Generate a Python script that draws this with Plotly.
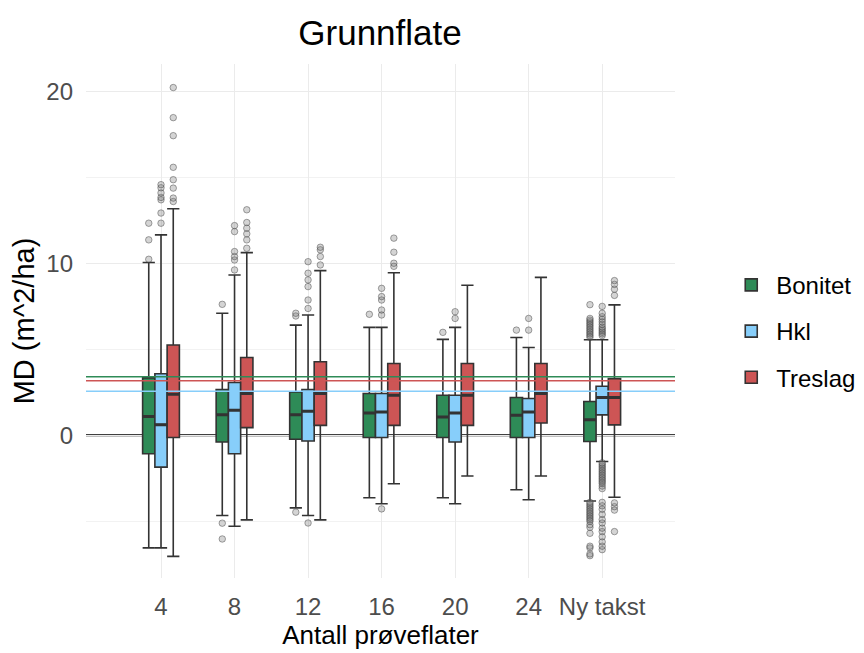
import plotly.graph_objects as go

categories = ["4", "8", "12", "16", "20", "24", "Ny takst"]
groups = ["Bonitet", "Hkl", "Treslag"]
colors = {"Bonitet": "#2E8B57", "Hkl": "#87CEFA", "Treslag": "#CD5555"}

# Bonitet
bon_lf = [-6.55, -4.66, -4.22, -3.63, -3.63, -3.17, -3.82]
bon_q1 = [-1.07, -0.39, -0.23, -0.13, -0.13, -0.13, -0.36]
bon_med = [1.10, 1.20, 1.20, 1.30, 1.07, 1.17, 0.90]
bon_q3 = [3.34, 2.66, 2.53, 2.43, 2.33, 2.20, 1.97]
bon_uf = [10.05, 7.10, 6.41, 6.28, 5.58, 5.69, 5.56]
bon_out = [
    [10.24, 11.37, 12.34],
    [7.62, -5.11, -6.03],
    [6.94, 7.10, -4.47],
    [7.04],
    [5.99],
    [6.12],
    [5.7, 5.8, 5.9, 6.0, 6.1, 6.2, 6.3, 6.4, 6.5, 6.6, 6.7, 6.8, 7.6,
     -3.9, -4.0, -4.1, -4.2, -4.3, -4.4, -4.5, -4.6, -4.7, -4.8, -4.9, -5.0,
     -5.2, -5.35, -5.7, -6.45, -6.55, -6.9, -7.0],
]

# Hkl
hkl_lf = [-6.55, -5.29, -4.66, -3.98, -3.98, -3.75, -1.52]
hkl_q1 = [-1.85, -1.07, -0.33, -0.13, -0.39, -0.13, 1.19]
hkl_med = [0.62, 1.46, 1.40, 1.36, 1.30, 1.36, 2.20]
hkl_q3 = [3.58, 3.07, 2.66, 2.43, 2.33, 2.14, 2.85]
hkl_uf = [11.66, 9.33, 7.00, 6.28, 6.28, 5.11, 5.56]
hkl_out = [
    [12.34, 12.93, 13.70, 13.84, 14.10, 14.40, 14.58],
    [9.62, 10.20, 10.40, 10.69, 11.85, 12.20],
    [7.38, 7.87, 8.65, 9.04, 9.43, 10.10, -5.10],
    [7.00, 7.29, 7.87, 8.07, 8.55, -4.28],
    [6.80, 7.19],
    [6.12, 6.80],
    [5.8, 5.9, 6.0, 6.1, 6.2, 6.3, 6.45, 6.6, 6.75, 6.9, 7.1, 7.5,
     -1.6, -1.7, -1.8, -1.9, -2.0, -2.1, -2.2, -2.3, -2.4, -2.5, -2.6, -2.7,
     -2.8, -2.95, -3.1, -3.9, -4.1, -4.3, -4.6, -4.9, -5.1, -5.4, -5.6, -5.9,
     -6.2, -6.45, -6.65],
]

# Treslag
tre_lf = [-7.04, -4.92, -4.92, -2.82, -2.37, -2.37, -3.60]
tre_q1 = [-0.13, 0.45, 0.58, 0.58, 0.58, 0.72, 0.61]
tre_med = [2.39, 2.43, 2.43, 2.33, 2.33, 2.43, 2.20]
tre_q3 = [5.25, 4.53, 4.28, 4.18, 4.18, 4.18, 3.30]
tre_uf = [13.18, 10.63, 9.58, 9.46, 8.73, 9.19, 7.59]
tre_out = [
    [13.6, 13.8, 14.38, 14.87, 15.59, 17.43, 18.48, 20.23],
    [10.88, 11.37, 11.72, 12.05, 12.38, 13.12],
    [9.91, 10.40, 10.79, 10.94],
    [9.83, 10.01, 10.65, 11.47],
    [],
    [],
    [8.14, 8.5, 8.78, 9.0, -3.93, -4.15, -4.35, -5.6],
]

# Mean reference lines
ref_values = {"Bonitet": 3.40, "Treslag": 3.17, "Hkl": 2.57}
zero_value = 0

stats = {
    "Bonitet": (bon_lf, bon_q1, bon_med, bon_q3, bon_uf, bon_out),
    "Hkl": (hkl_lf, hkl_q1, hkl_med, hkl_q3, hkl_uf, hkl_out),
    "Treslag": (tre_lf, tre_q1, tre_med, tre_q3, tre_uf, tre_out),
}

FONT = "Liberation Sans, Arial, sans-serif"

fig = go.Figure()
for g in groups:
    lf, q1, med, q3, uf, out = stats[g]
    fig.add_trace(go.Box(
        name=g,
        x=categories,
        y=out,
        q1=q1, median=med, q3=q3, lowerfence=lf, upperfence=uf,
        boxpoints="outliers",
        jitter=0, pointpos=0,
        fillcolor=colors[g],
        line=dict(color="#333333", width=1.6),
        whiskerwidth=1,
        marker=dict(color="rgba(120,120,120,0.32)", size=6.5,
                    line=dict(color="rgba(60,60,60,0.45)", width=1)),
        legendgroup=g,
        offsetgroup=g,
        hoverinfo="skip",
    ))
# thicker median bars (same slot as the boxes)
for g in groups:
    lf, q1, med, q3, uf, out = stats[g]
    fig.add_trace(go.Box(
        name=g + " median",
        x=categories,
        q1=med, median=med, q3=med, lowerfence=med, upperfence=med,
        boxpoints=False,
        fillcolor="rgba(0,0,0,0)",
        line=dict(color="#333333", width=3),
        whiskerwidth=0,
        legendgroup=g,
        offsetgroup=g,
        showlegend=False,
        hoverinfo="skip",
    ))

shapes = [dict(type="line", xref="paper", x0=0, x1=1, yref="y",
               y0=zero_value, y1=zero_value,
               line=dict(color="#000000", width=2), layer="between")]
for g in ["Bonitet", "Treslag", "Hkl"]:
    shapes.append(dict(type="line", xref="paper", x0=0, x1=1, yref="y",
                       y0=ref_values[g], y1=ref_values[g],
                       line=dict(color=colors[g], width=1.5), layer="above"))

fig.update_layout(
    width=856, height=645,
    margin=dict(l=78, r=189, t=56, b=75, autoexpand=False),
    paper_bgcolor="white", plot_bgcolor="white",
    font=dict(family=FONT, color="black"),
    title=dict(text="Grunnflate", x=0.4346, xanchor="center", y=0.961, yanchor="middle",
               font=dict(size=35, color="black", family=FONT)),
    boxmode="group", boxgap=0.5, boxgroupgap=0,
    shapes=shapes,
    legend=dict(x=1.087, xanchor="left", y=0.48, yanchor="middle",
                font=dict(size=24, color="black"), tracegroupgap=12,
                traceorder="grouped", itemwidth=40),
    xaxis=dict(type="category", categoryorder="array", categoryarray=categories,
               range=[-1.02, 6.99], showgrid=True, gridcolor="#EBEBEB", gridwidth=1.2,
               zeroline=False, showline=False, ticks="", ticklabelstandoff=12,
               tickfont=dict(size=24, color="#4D4D4D"),
               title=dict(text="Antall prøveflater", font=dict(size=26, color="black"),
                          standoff=3)),
    yaxis=dict(range=[-8.3, 21.6], tickvals=[0, 10, 20], showgrid=True,
               gridcolor="#EBEBEB", gridwidth=1.2, zeroline=False, showline=False,
               ticks="", ticklabelstandoff=12,
               tickfont=dict(size=24, color="#4D4D4D"),
               minor=dict(tickvals=[-5, 5, 15], showgrid=True, gridcolor="#F2F2F2",
                          gridwidth=1),
               title=dict(text="MD (m^2/ha)", font=dict(size=29, color="black"),
                          standoff=8)),
)

fig.write_html("out.html")
